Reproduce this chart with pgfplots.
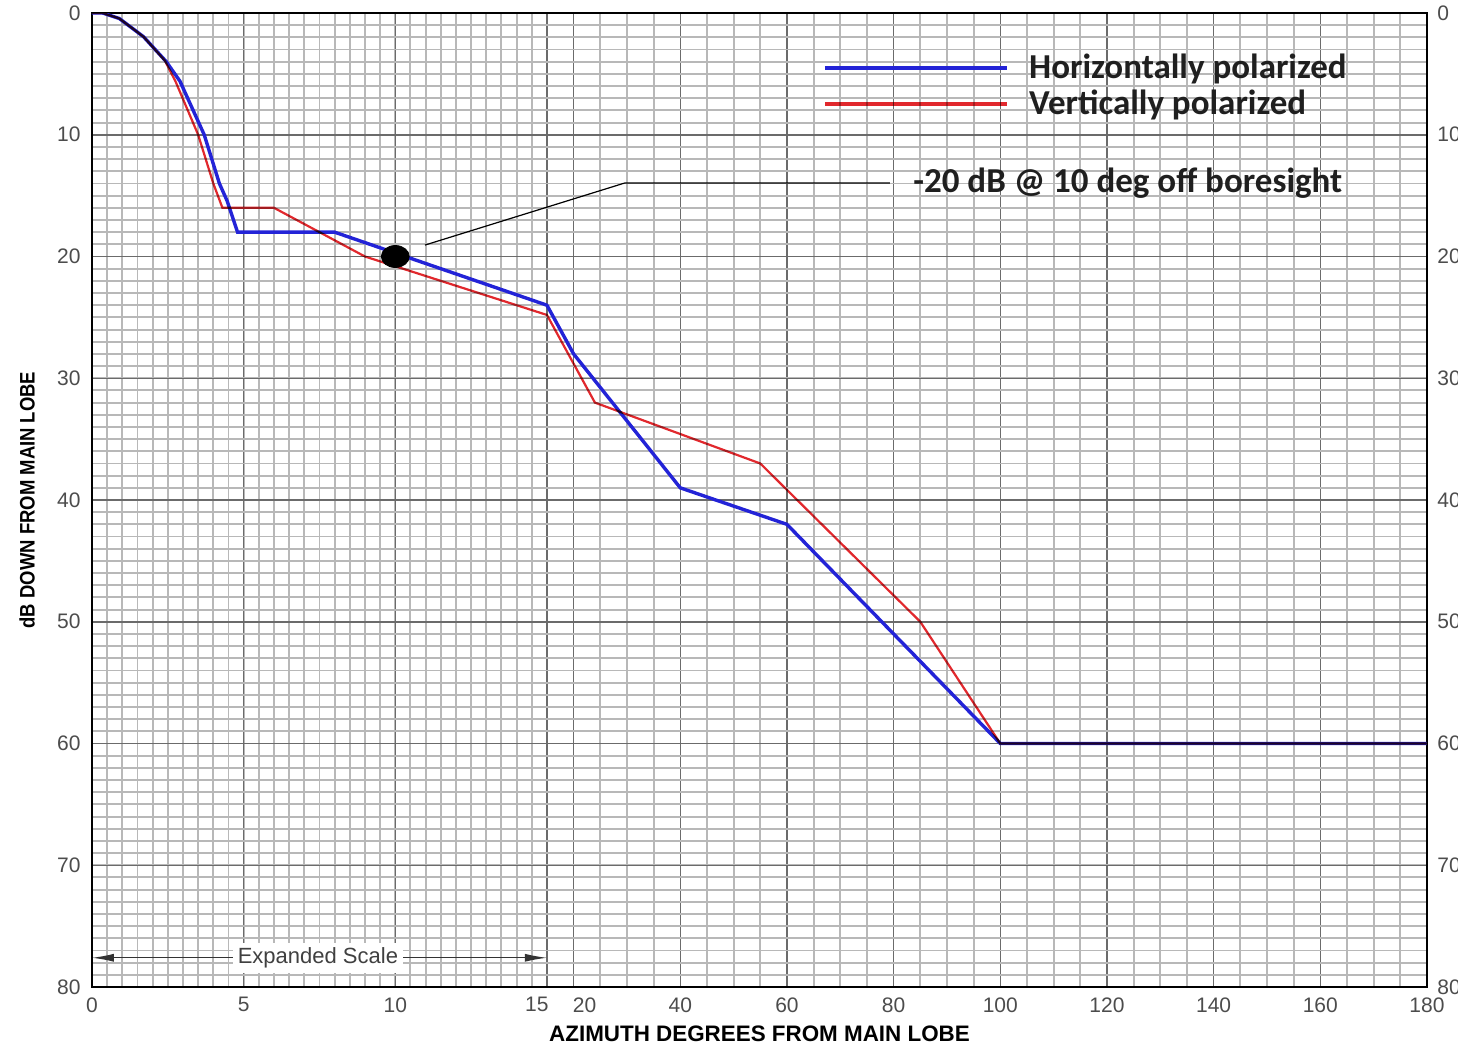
\documentclass[border=0pt]{standalone}
\usepackage{fontspec}
\setmainfont{Liberation Sans}
\newfontfamily\calib{Carlito}
\usepackage{graphicx}
\usepackage{pgfplots}
\usepackage{pgfplotstable}
\pgfplotsset{compat=1.18}
\usetikzlibrary{arrows.meta}
\definecolor{hblue}{RGB}{35,35,215}
\definecolor{vred}{RGB}{225,40,45}

% degrees off the main lobe vs. dB down
\pgfplotstableread{
deg dB
0 0
0.35 0
0.9 0.45
1.7 1.95
2.45 4.0
2.9 5.6
3.7 10.0
4.2 14.0
4.45 15.4
4.8 18.0
8 18
15 24
20 28
40 39
60 42
100 60
180 60
}\horiz
\pgfplotstableread{
deg dB
0 0
0.35 0
0.9 0.45
1.7 1.95
2.4 3.9
2.75 5.6
3.5 10
4.0 14
4.3 16
6 16
9 20
15 24.8
24 32
55 37
85 50
100 60
180 60
}\vert
\pgfplotstableread{
deg dB
10 20
}\mark

\begin{document}
\begin{tikzpicture}
\begin{scope}
\clip (-46pt,-28.5pt) rectangle (683pt,493.5pt);
\begin{axis}[
  scale only axis, width=667.5pt, height=487pt,
  xmin=0, xmax=44.019, ymin=0, ymax=80, y dir=reverse,
  xtick={0,5,10,15,15.879,19.397,22.914,26.432,29.949,33.466,36.984,40.501,44.019},
  xticklabels={0,5,10,\makebox[0pt]{\hspace{-10pt}15},\makebox[0pt]{\hspace{11pt}20},40,60,80,100,120,140,160,180},
  minor xtick={0.5,1,...,14.5,16.759,17.638,18.517,20.276,21.155,22.035,23.794,24.673,25.552,27.311,28.190,29.070,30.828,31.708,32.587,34.346,35.225,36.105,37.863,38.743,39.622,41.381,42.260,43.140},
  ytick={0,10,...,80}, minor ytick={0,1,...,80},
  yticklabels={0,10,20,30,40,50,60,70,80},
  yticklabel pos=left,
  grid=both,
  major grid style={black!58, line width=0.75pt},
  minor grid style={black!28, line width=0.95pt},
  major tick length=0pt, minor tick length=0pt,
  tick label style={font=\fontsize{10.5}{12}\selectfont, text=black!70, inner sep=0pt},
  xticklabel shift=5pt, yticklabel shift=5.5pt,
  axis line style={black, line width=1pt},
  xlabel={\fontsize{11.2}{13}\selectfont\bfseries AZIMUTH DEGREES FROM MAIN LOBE},
  every axis x label/.style={at={(axis description cs:0.5,0)}, anchor=center, yshift=-23.5pt},
  ylabel={\scalebox{0.88}[1]{\fontsize{10.5}{12}\selectfont\bfseries dB DOWN FROM MAIN LOBE}},
  every axis y label/.style={at={(axis description cs:0,0.5)}, rotate=90, anchor=center, yshift=32.5pt},
  legend image code/.code={\draw[#1, line width=2.4pt] (0pt,0pt) -- (91pt,0pt);},
  legend style={draw=none, fill=none, at={(axis cs:24.07,6.0)}, anchor=west,
    font=\calib\bfseries\fontsize{17.5}{20}\selectfont, text=black!88,
    row sep=4.2pt, inner sep=0pt, nodes={inner sep=0pt},
    /tikz/every odd column/.append style={column sep=10pt}},
  legend cell align=left,
]
\addplot[hblue, line width=1.7pt] table[x expr={min(\thisrow{deg},15)+max(\thisrow{deg}-15,0)*0.17587}, y=dB] {\horiz};
\addlegendentry{Horizontally polarized}
\addplot[vred, line width=1.1pt, blend mode=multiply] table[x expr={min(\thisrow{deg},15)+max(\thisrow{deg}-15,0)*0.17587}, y=dB] {\vert};
\addlegendentry{Vertically polarized}
\addplot[only marks, mark=*, mark size=5.5pt, mark options={black, xscale=1.27}, forget plot] table[x=deg, y=dB] {\mark};
\draw[black, line width=0.6pt] (axis cs:10.98,19.06) -- (axis cs:17.57,13.96) -- (axis cs:26.31,13.96);
\node[anchor=west, font=\calib\bfseries\fontsize{17.5}{20}\selectfont, text=black!88, inner sep=0pt] at (axis cs:27.07,13.96) {-20 dB @ 10 deg off boresight};
\draw[black!80, line width=0.6pt, {Latex[length=11pt,width=4pt]}-{Latex[length=11pt,width=4pt]}] (axis cs:0,77.6) -- (axis cs:15,77.6);
\node[fill=white, inner sep=2.5pt, font=\fontsize{11}{13}\selectfont, text=black!75] at (axis cs:7.45,77.6) {Expanded Scale};
\end{axis}
\begin{axis}[
  scale only axis, width=667.5pt, height=487pt,
  xmin=0, xmax=44.019, ymin=0, ymax=80, y dir=reverse,
  hide x axis, axis y line*=right, axis line style={draw=none},
  ytick={0,10,...,80}, yticklabels={0,10,20,30,40,50,60,70,80},
  major tick length=0pt,
  tick label style={font=\fontsize{10.5}{12}\selectfont, text=black!70, inner sep=0pt},
  yticklabel shift=5pt,
]
\end{axis}
\end{scope}
\pgfresetboundingbox
\useasboundingbox (-46pt,-28.5pt) rectangle (683pt,493.5pt);
\end{tikzpicture}
\end{document}
